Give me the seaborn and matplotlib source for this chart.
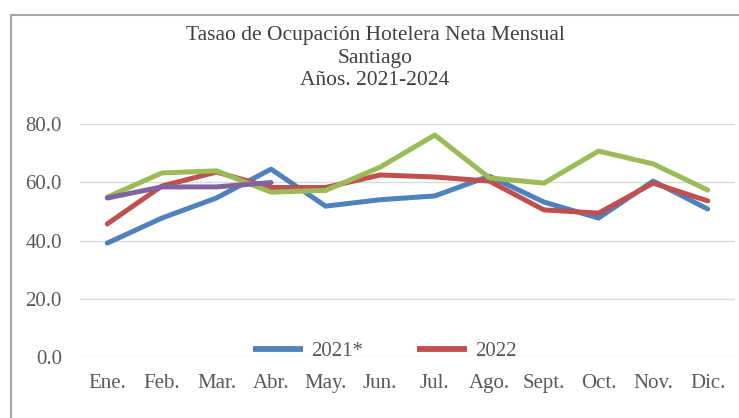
import pandas as pd
import matplotlib
matplotlib.use("Agg")
import matplotlib.pyplot as plt
from matplotlib.patches import Rectangle
import seaborn as sns

# monthly net hotel occupancy rate (%), Santiago
months = ['Ene.', 'Feb.', 'Mar.', 'Abr.', 'May.', 'Jun.',
          'Jul.', 'Ago.', 'Sept.', 'Oct.', 'Nov.', 'Dic.']
y2021 = [39.1, 47.7, 54.6, 64.5, 51.8, 54.0, 55.3, 62.1, 53.2, 47.7, 60.4, 50.8]
y2022 = [45.7, 58.7, 63.5, 58.2, 58.2, 62.5, 61.8, 60.4, 50.5, 49.4, 59.7, 53.6]
y2023 = [54.9, 63.2, 63.9, 56.6, 57.2, 65.2, 76.2, 61.5, 59.7, 70.7, 66.3, 57.3]
y2024 = [54.6, 58.4, 58.4, 59.9]
series = {'2021*': y2021, '2022': y2022, '2023': y2023, '2024': y2024}
colors = ['#4F81BD', '#C0504D', '#9BBB59', '#8064A2']
yticks = [0, 20, 40, 60, 80]

rows = []
for name, vals in series.items():
    for i, v in enumerate(vals):
        rows.append({'mes': i, 'anio': name, 'tasa': v})
df = pd.DataFrame(rows)

sns.set_style("white")
plt.rcParams['font.family'] = ['Liberation Serif', 'DejaVu Serif']

W, H = 739, 418
fig = plt.figure(figsize=(W / 100, H / 100), dpi=100)
ax = fig.add_axes([80 / W, 1 - 357 / H, 655 / W, 233 / H])

sns.lineplot(data=df, x='mes', y='tasa', hue='anio', palette=colors,
             linewidth=3.6, ax=ax, legend=True, sort=False)

ax.set_xlim(-0.5, 11.5)
ax.set_ylim(0, 80)
ax.set_xticks(range(len(months)))
ax.set_xticklabels(months)
ax.set_yticks(yticks)
ax.set_yticklabels([f'{t:.1f}' for t in yticks])
ax.tick_params(axis='both', length=0, labelsize=15, colors='#595959')
ax.tick_params(axis='y', pad=13)
ax.tick_params(axis='x', pad=12)
ax.set_xlabel('')
ax.set_ylabel('')
ax.yaxis.grid(True, color='#D9D9D9', linewidth=1.0)
ax.set_axisbelow(True)
for s in ax.spines.values():
    s.set_visible(False)

# only the first two legend entries show in the original
handles, labels = ax.get_legend_handles_labels()
ax.get_legend().remove()
leg = fig.legend(handles[:2], labels[:2], loc='center', ncol=2, frameon=False,
                 bbox_to_anchor=(384.5 / W, 1 - 351 / H), fontsize=15,
                 handlelength=2.4, handletextpad=0.38, columnspacing=2.6,
                 labelcolor='#595959')
for ln in leg.get_lines():
    ln.set_solid_capstyle('butt')
    ln.set_linewidth(4.2)

fig.text(375 / W, 1 - 58 / H,
         'Tasao de Ocupación Hotelera Neta Mensual\nSantiago\nAños. 2021-2024',
         ha='center', va='center', fontsize=15.5, color='#404040',
         linespacing=1.23)

fig.patches.append(Rectangle((10.5 / W, -0.1), 1.2, 1.1 - 15 / H,
                             transform=fig.transFigure, fill=False,
                             edgecolor='#A6A6A6', linewidth=1.5))

fig.savefig('out.png', dpi=100)
